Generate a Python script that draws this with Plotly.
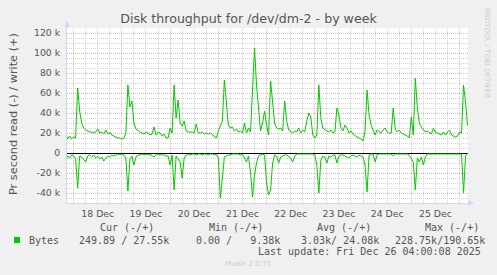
import plotly.graph_objects as go
import pandas as pd
import numpy as np

# ---------------- data (values in kB/s, hourly) ----------------
start_time = "2025-12-17 20:00"

write_k = [
    21, 14, 17, 14, 16, 15, 65, 42, 30, 25,
    23, 22, 21, 21, 20, 21, 24, 20, 21, 19,
    23, 19, 21, 18, 17, 16, 15, 15, 14, 15,
    20, 68, 46, 52, 30, 24, 22, 21, 20, 19,
    21, 20, 18, 19, 26, 18, 21, 20, 17, 19,
    15, 15, 25, 20, 68, 35, 53, 30, 27, 32,
    22, 21, 21, 21, 20, 29, 20, 20, 21, 19,
    20, 19, 20, 18, 17, 15, 22, 28, 32, 73,
    48, 28, 25, 26, 22, 24, 21, 22, 20, 30,
    20, 25, 21, 58, 105, 68, 45, 22, 30, 42,
    28, 18, 72, 53, 30, 25, 24, 25, 22, 52,
    32, 23, 21, 20, 22, 21, 25, 20, 23, 21,
    32, 40, 36, 18, 15, 18, 68, 35, 25, 23,
    22, 21, 23, 20, 21, 45, 38, 25, 22, 28,
    25, 20, 22, 19, 17, 16, 15, 14, 12, 22,
    63, 38, 28, 22, 18, 23, 21, 20, 23, 25,
    21, 20, 20, 45, 24, 21, 23, 20, 19, 18,
    17, 15, 36, 18, 75, 45, 30, 26, 23, 21,
    22, 20, 19, 25, 21, 20, 19, 18, 21, 18,
    21, 23, 18, 17, 16, 17, 21, 20, 68, 51,
    27.55,
]

read_k = [
    8, 3, 5, 2, 3, 6, 35, 3, 4, 6,
    9, 3, 2, 4, 2, 5, 3, 6, 4, 8,
    5, 3, 4, 2, 3, 2, 1, 2, 1, 2,
    5, 38, 6, 3, 12, 4, 2, 2, 1, 2,
    1, 2, 1, 3, 4, 2, 1, 2, 1, 2,
    3, 3, 12, 2, 37, 3, 6, 9, 25, 5,
    2, 1, 2, 1, 1, 2, 1, 1, 2, 1,
    1, 2, 1, 1, 2, 1, 5, 45, 25, 4,
    3, 2, 2, 1, 1, 1, 1, 2, 1, 5,
    9, 3, 19, 44, 22, 10, 3, 2, 1, 2,
    30, 42, 37, 10, 2, 3, 10, 4, 3, 2,
    2, 4, 5, 9, 3, 1, 1, 1, 1, 1,
    1, 1, 1, 1, 2, 12, 40, 7, 3, 4,
    10, 3, 4, 2, 2, 10, 3, 2, 2, 3,
    4, 5, 3, 2, 3, 4, 2, 3, 4, 12,
    39, 2, 1, 1, 9, 2, 1, 1, 1, 1,
    1, 1, 1, 3, 1, 1, 1, 1, 1, 1,
    1, 2, 5, 9, 37, 5, 9, 4, 12, 4,
    1, 1, 1, 1, 1, 1, 1, 1, 1, 1,
    1, 1, 1, 1, 1, 1, 1, 1, 40, 3,
    0.25,
]

ytick_vals = [-40000, -20000, 0, 20000, 40000, 60000, 80000, 100000, 120000]
ytick_text = ["-40 k", "-20 k", "0", "20 k", "40 k", "60 k", "80 k", "100 k", "120 k"]

legend_label = "Bytes"
col_headers = ["Cur (-/+)", "Min (-/+)", "Avg (-/+)", "Max (-/+)"]
col_values = ["249.89 / 27.55k", "0.00 /   9.38k", "3.03k/ 24.08k", "228.75k/190.65k"]
last_update = "Last update: Fri Dec 26 04:00:08 2025"

# ---------------- figure ----------------
W, H = 497, 275
L, R, T, B = 67, 29, 28, 72
PW, PH = W - L - R, H - T - B

def px(x):
    return (x - L) / PW

def py(y):
    return (H - B - y) / PH

times = pd.date_range(start_time, periods=len(write_k), freq="h")
green = "#00CC00"

fig = go.Figure()
fig.add_trace(go.Scatter(x=times, y=np.array(write_k) * 1000, mode="lines",
                         line=dict(color=green, width=1), name="write", showlegend=False))
fig.add_trace(go.Scatter(x=times, y=-np.array(read_k) * 1000, mode="lines",
                         line=dict(color=green, width=1), name="read", showlegend=False))

font_color = "#555555"
axis_color = "#CFD6F8"
mgrid = "#EBB6B6"
grid = "#D4D4D4"
dots = "1px,1px"

fig.update_layout(
    width=W, height=H,
    margin=dict(l=L, r=R, t=T, b=B, pad=0),
    paper_bgcolor="#F0F0F0",
    plot_bgcolor="#FFFFFF",
    showlegend=False,
    title=dict(text="Disk throughput for /dev/dm-2 - by week",
               x=0.5, xref="container", xanchor="center",
               y=1 - 19 / H, yref="container", yanchor="middle",
               font=dict(family="DejaVu Sans", size=12.6, color=font_color)),
    xaxis=dict(
        type="date",
        range=["2025-12-17 20:42", "2025-12-26 04:13"],
        tick0="2025-12-18 00:00", dtick=86400000,
        tickformat="%d %b", ticklabelmode="period",
        showgrid=True, gridcolor=mgrid, griddash=dots, gridwidth=1,
        showline=True, linecolor=axis_color, linewidth=1,
        zeroline=False, ticks="",
        tickfont=dict(family="DejaVu Sans", size=9.3, color=font_color),
        ticklabelstandoff=2,
        minor=dict(tick0="2025-12-18 00:00", dtick=21600000, showgrid=True,
                   gridcolor=grid, griddash=dots, gridwidth=1, ticks=""),
        fixedrange=True,
    ),
    yaxis=dict(
        range=[-50000, 125000],
        tickmode="array", tickvals=ytick_vals, ticktext=ytick_text,
        showgrid=True, gridcolor=mgrid, griddash=dots, gridwidth=1,
        zeroline=True, zerolinecolor="#000000", zerolinewidth=1,
        showline=True, linecolor=axis_color, linewidth=1,
        ticks="",
        tickfont=dict(family="DejaVu Sans", size=9.3, color=font_color),
        ticklabelstandoff=4,
        minor=dict(tickmode="linear", tick0=0, dtick=5000, showgrid=True,
                   gridcolor=grid, griddash=dots, gridwidth=1, ticks=""),
        fixedrange=True,
    ),
)

shapes = []
# axis arrows and extensions
shapes.append(dict(type="line", xref="paper", yref="paper",
                   x0=px(67), x1=px(67), y0=py(28), y1=py(24),
                   line=dict(color=axis_color, width=1)))
shapes.append(dict(type="path", xref="paper", yref="paper",
                   path=f"M {px(64)},{py(27)} L {px(70)},{py(27)} L {px(67)},{py(21)} Z",
                   fillcolor=axis_color, line=dict(color=axis_color, width=0)))
shapes.append(dict(type="line", xref="paper", yref="paper",
                   x0=px(468), x1=px(470), y0=py(203), y1=py(203),
                   line=dict(color=axis_color, width=1)))
shapes.append(dict(type="path", xref="paper", yref="paper",
                   path=f"M {px(468)},{py(200)} L {px(468)},{py(206)} L {px(474)},{py(203)} Z",
                   fillcolor=axis_color, line=dict(color=axis_color, width=0)))
# legend colour box
shapes.append(dict(type="rect", xref="paper", yref="paper",
                   x0=px(14), x1=px(20), y0=py(243), y1=py(237),
                   fillcolor=green, line=dict(width=0)))
fig.update_layout(shapes=shapes)

def nb(s):
    return s.replace(" ", "\u00a0")

mono = dict(family="DejaVu Sans Mono", size=10, color=font_color)
ann = []
ann.append(dict(text=nb(legend_label), x=px(27), y=py(240), xanchor="left", yanchor="middle",
                xref="paper", yref="paper", showarrow=False, font=mono))
header_x = [98, 207, 315, 423]
value_x = [77, 194, 299, 393]
for hx, htxt in zip(header_x, col_headers):
    ann.append(dict(text=nb(htxt), x=px(hx), y=py(227.5), xanchor="left", yanchor="middle",
                    xref="paper", yref="paper", showarrow=False, font=mono))
for vx, vtxt in zip(value_x, col_values):
    ann.append(dict(text=nb(vtxt), x=px(vx), y=py(240), xanchor="left", yanchor="middle",
                    xref="paper", yref="paper", showarrow=False, font=mono))
ann.append(dict(text=nb(last_update), x=px(483), y=py(251.7), xanchor="right", yanchor="middle",
                xref="paper", yref="paper", showarrow=False, font=mono))
ann.append(dict(text="Munin 2.0.73", x=px(247.5), y=py(264), xanchor="center", yanchor="middle",
                xref="paper", yref="paper", showarrow=False,
                font=dict(family="DejaVu Sans", size=7, color="#CCCCCC")))
ann.append(dict(text="RRDTOOL / TOBI OETIKER", x=px(487), y=py(53), xanchor="center", yanchor="middle",
                xref="paper", yref="paper", showarrow=False, textangle=90,
                font=dict(family="DejaVu Sans", size=7, color="#CCCCCC")))
ann.append(dict(text="Pr second read (-) / write (+)", x=px(13), y=py(114), xanchor="center", yanchor="middle",
                xref="paper", yref="paper", showarrow=False, textangle=-90,
                font=dict(family="DejaVu Sans", size=11.3, color=font_color)))
fig.update_layout(annotations=ann)

fig.write_html("out.html")
